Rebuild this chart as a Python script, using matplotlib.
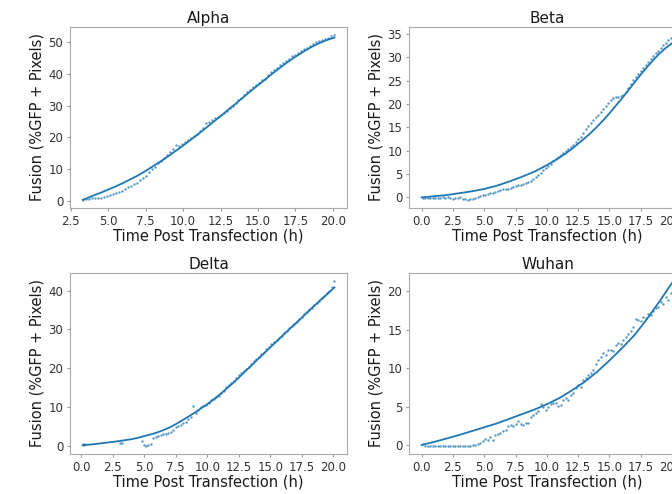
import matplotlib
matplotlib.use("Agg")
import matplotlib.pyplot as plt
from matplotlib.ticker import MultipleLocator, FormatStrFormatter

# ---- Alpha ----
alpha_t = [3.3, 3.5, 3.7, 3.9, 4.1, 4.3, 4.5, 4.7, 4.9, 5.1, 5.3, 5.5, 5.7, 5.9,
           6.1, 6.3, 6.5, 6.7, 6.9, 7.1, 7.3, 7.5, 7.7, 7.9, 8.1, 8.3, 8.5, 8.7,
           8.9, 9.1, 9.3, 9.5, 9.7, 9.9, 10.1, 10.3, 10.5, 10.7, 10.9, 11.1, 11.3,
           11.5, 11.7, 11.9, 12.1, 12.3, 12.5, 12.7, 12.9, 13.1, 13.3, 13.5, 13.7,
           13.9, 14.1, 14.3, 14.5, 14.7, 14.9, 15.1, 15.3, 15.5, 15.7, 15.9, 16.1,
           16.3, 16.5, 16.7, 16.9, 17.1, 17.3, 17.5, 17.7, 17.9, 18.1, 18.3, 18.5,
           18.7, 18.9, 19.1, 19.3, 19.5, 19.7, 19.9, 20.1]
alpha_y = [0.3, 0.5, 0.4, 0.8, 0.9, 1.0, 1.0, 1.3, 1.5, 1.7, 2.0, 2.4, 2.8, 3.1,
           3.6, 4.2, 4.6, 5.2, 5.7, 6.6, 7.1, 7.9, 9.0, 10.0, 10.8, 11.9, 12.6, 13.6,
           14.3, 15.4, 16.2, 17.5, 17.2, 17.8, 18.5, 19.3, 19.9, 20.6, 21.2, 22.0, 23.0,
           24.6, 25.0, 25.6, 26.0, 26.6, 27.2, 27.8, 28.5, 29.3, 30.0, 30.8, 31.8,
           32.6, 33.5, 34.4, 35.1, 35.9, 36.7, 37.3, 38.2, 38.6, 39.6, 40.6, 41.2,
           42.0, 42.9, 43.6, 44.1, 44.9, 45.6, 45.9, 46.6, 47.2, 47.8, 48.2, 48.9,
           49.4, 50.0, 50.4, 50.9, 51.2, 51.5, 51.9, 52.3]
alpha_fit_t = [3.3, 3.5, 4.0, 4.5, 5.0, 5.5, 6.0, 6.5, 7.0, 7.5, 8.0, 8.5, 9.0, 9.5,
               10.0, 10.5, 11.0, 11.5, 12.0, 12.5, 13.0, 13.5, 14.0, 14.5, 15.0, 15.5,
               16.0, 16.5, 17.0, 17.5, 18.0, 18.5, 19.0, 19.5, 20.0, 20.1]
alpha_fit_y = [0.3, 0.6, 1.6, 2.5, 3.5, 4.5, 5.6, 6.8, 8.0, 9.4, 10.9, 12.4, 14.0, 15.7,
               17.4, 19.2, 21.0, 22.9, 24.8, 26.7, 28.7, 30.6, 32.6, 34.6, 36.5, 38.4,
               40.3, 42.1, 43.9, 45.5, 47.0, 48.4, 49.6, 50.6, 51.4, 51.5]

# ---- Beta ----
beta_t = [0.1, 0.3, 0.5, 0.7, 0.9, 1.1, 1.3, 1.5, 1.7, 1.9, 2.1, 2.3, 2.5, 2.7, 2.9,
          3.1, 3.3, 3.5, 3.7, 3.9, 4.1, 4.3, 4.5, 4.7, 4.9, 5.1, 5.3, 5.5, 5.7, 5.9,
          6.1, 6.3, 6.5, 6.7, 6.9, 7.1, 7.3, 7.5, 7.7, 7.9, 8.1, 8.3, 8.5, 8.7, 8.9,
          9.1, 9.3, 9.5, 9.7, 9.9, 10.1, 10.3, 10.5, 10.7, 10.9, 11.1, 11.3, 11.5,
          11.7, 11.9, 12.1, 12.3, 12.5, 12.7, 12.9, 13.1, 13.3, 13.5, 13.7, 13.9,
          14.1, 14.3, 14.5, 14.7, 14.9, 15.1, 15.3, 15.5, 15.7, 15.9, 16.1, 16.3,
          16.5, 16.7, 16.9, 17.1, 17.3, 17.5, 17.7, 17.9, 18.1, 18.3, 18.5, 18.7,
          18.9, 19.1, 19.3, 19.5, 19.7, 19.9, 20.1]
beta_y = [-0.2, -0.1, -0.2, -0.1, -0.2, -0.1, -0.1, -0.2, 0.0, -0.1, 0.0, -0.2, -0.3,
          -0.1, -0.1, 0.0, -0.3, -0.4, -0.5, -0.4, -0.3, -0.2, 0.1, 0.3, 0.5, 0.6,
          0.8, 0.9, 1.0, 1.2, 1.4, 1.6, 1.7, 1.8, 1.9, 2.1, 2.2, 2.4, 2.6, 2.7, 2.9,
          3.0, 3.4, 3.6, 3.9, 4.4, 4.9, 5.3, 5.8, 6.3, 6.8, 7.2, 7.7, 8.3, 8.7, 9.1,
          9.5, 9.9, 10.3, 10.8, 11.3, 11.8, 12.4, 13.0, 13.8, 14.6, 15.2, 15.9, 16.6,
          17.1, 17.6, 18.2, 18.9, 19.5, 20.2, 20.8, 21.3, 21.5, 21.4, 21.6, 21.9,
          22.6, 23.4, 24.3, 25.1, 25.8, 26.5, 27.1, 27.7, 28.3, 28.9, 29.6, 30.2,
          30.8, 31.4, 31.9, 32.5, 33.0, 33.6, 34.2, 34.7]
beta_fit_t = [0.0, 0.5, 1.0, 1.5, 2.0, 2.5, 3.0, 3.5, 4.0, 4.5, 5.0, 5.5, 6.0, 6.5,
              7.0, 7.5, 8.0, 8.5, 9.0, 9.5, 10.0, 10.5, 11.0, 11.5, 12.0, 12.5, 13.0,
              13.5, 14.0, 14.5, 15.0, 15.5, 16.0, 16.5, 17.0, 17.5, 18.0, 18.5, 19.0,
              19.5, 20.0, 20.1]
beta_fit_y = [0.0, 0.12, 0.25, 0.37, 0.5, 0.7, 0.9, 1.1, 1.3, 1.55, 1.8, 2.15, 2.5, 2.95,
              3.4, 3.9, 4.4, 4.95, 5.5, 6.2, 6.9, 7.7, 8.5, 9.4, 10.4, 11.5, 12.6,
              13.8, 15.1, 16.5, 18.0, 19.6, 21.2, 22.9, 24.6, 26.3, 27.9, 29.4, 30.8,
              32.0, 33.0, 33.2]

# ---- Delta ----
delta_t = [0.1, 0.2, 0.3, 3.1, 3.2, 4.8, 5.0, 5.1, 5.3, 5.5, 5.7, 5.9, 6.1, 6.3, 6.5,
           6.7, 6.9, 7.1, 7.3, 7.5, 7.7, 7.9, 8.1, 8.3, 8.5, 8.7, 8.9, 9.1, 9.3, 9.5,
           9.7, 9.9, 10.1, 10.3, 10.5, 10.7, 10.9, 11.1, 11.3, 11.5, 11.7, 11.9, 12.1,
           12.3, 12.5, 12.7, 12.9, 13.1, 13.3, 13.5, 13.7, 13.9, 14.1, 14.3, 14.5,
           14.7, 14.9, 15.1, 15.3, 15.5, 15.7, 15.9, 16.1, 16.3, 16.5, 16.7, 16.9,
           17.1, 17.3, 17.5, 17.7, 17.9, 18.1, 18.3, 18.5, 18.7, 18.9, 19.1, 19.3,
           19.5, 19.7, 19.9, 20.1]
delta_y = [0.6, 0.2, 0.6, 0.8, 0.7, 1.3, 0.2, 0.1, 0.2, 0.5, 2.2, 2.3, 2.6, 2.8, 3.0,
           3.2, 3.4, 3.6, 4.2, 4.8, 5.1, 5.4, 5.9, 6.3, 6.9, 7.4, 10.4, 8.6, 9.4, 10.1,
           10.4, 10.7, 11.2, 11.9, 12.1, 12.6, 13.0, 13.6, 14.2, 15.1, 15.6, 16.2, 16.8,
           17.5, 18.2, 18.8, 19.4, 19.8, 20.3, 21.0, 21.8, 22.5, 22.9, 23.6, 24.2,
           24.9, 25.5, 26.2, 26.9, 27.3, 27.8, 28.3, 29.0, 29.6, 30.3, 30.9, 31.4,
           32.0, 32.6, 33.3, 34.0, 34.6, 35.1, 35.6, 36.2, 36.9, 37.4, 38.0, 38.7,
           39.3, 39.9, 40.9, 42.4]
delta_fit_t = [0.1, 0.5, 1.0, 1.5, 2.0, 2.5, 3.0, 3.5, 4.0, 4.5, 5.0, 5.5, 6.0, 6.5,
               7.0, 7.5, 8.0, 8.5, 9.0, 9.5, 10.0, 10.5, 11.0, 11.5, 12.0, 12.5, 13.0,
               13.5, 14.0, 14.5, 15.0, 15.5, 16.0, 16.5, 17.0, 17.5, 18.0, 18.5, 19.0,
               19.5, 20.0, 20.1]
delta_fit_y = [0.2, 0.35, 0.5, 0.7, 0.9, 1.1, 1.3, 1.55, 1.8, 2.15, 2.6, 3.0, 3.5, 4.1,
               4.8, 5.65, 6.6, 7.6, 8.6, 9.7, 10.8, 12.0, 13.3, 14.7, 16.1, 17.6, 19.2,
               20.7, 22.3, 23.8, 25.4, 26.9, 28.5, 30.0, 31.5, 33.0, 34.6, 36.1, 37.6,
               39.0, 40.5, 40.8]

# ---- Wuhan ----
wuhan_t = list(beta_t)
wuhan_y = [0.1, -0.1, -0.1, -0.1, -0.1, -0.1, -0.1, -0.1, -0.1, -0.1, -0.1, -0.1,
           -0.1, -0.1, -0.1, -0.1, -0.1, -0.1, -0.1, -0.1, 0.0, 0.0, 0.1, 0.3, 0.5,
           0.8, 0.6, 1.0, 0.6, 1.3, 1.4, 1.6, 1.8, 1.9, 2.5, 2.6, 2.5, 2.7, 3.1, 2.7,
           2.6, 2.8, 2.9, 3.6, 3.9, 4.1, 4.4, 5.3, 4.9, 4.6, 5.0, 5.3, 5.5, 5.4, 5.1,
           5.2, 5.8, 6.1, 5.9, 6.5, 6.8, 7.4, 7.8, 7.6, 8.4, 8.7, 9.1, 9.3, 9.8, 10.5,
           11.1, 11.5, 11.9, 11.7, 12.3, 12.4, 12.2, 13.0, 13.3, 13.1, 13.7, 14.0,
           14.4, 14.8, 15.3, 16.4, 16.3, 16.1, 16.6, 16.5, 17.0, 16.9, 17.4, 17.8,
           18.0, 18.6, 18.3, 19.2, 18.9, 19.8, 20.3]
wuhan_fit_t = list(beta_fit_t)
wuhan_fit_y = [0.0, 0.2, 0.4, 0.62, 0.85, 1.07, 1.3, 1.55, 1.8, 2.05, 2.3, 2.55, 2.8,
               3.1, 3.4, 3.7, 4.0, 4.3, 4.6, 4.95, 5.3, 5.7, 6.1, 6.6, 7.1, 7.65, 8.2,
               8.85, 9.5, 10.25, 11.0, 11.8, 12.6, 13.45, 14.3, 15.35, 16.4, 17.55,
               18.7, 19.9, 21.1, 21.3]

panels = [
    ("Alpha", alpha_t, alpha_y, alpha_fit_t, alpha_fit_y, 10),
    ("Beta", beta_t, beta_y, beta_fit_t, beta_fit_y, 5),
    ("Delta", delta_t, delta_y, delta_fit_t, delta_fit_y, 10),
    ("Wuhan", wuhan_t, wuhan_y, wuhan_fit_t, wuhan_fit_y, 5),
]

# axes boxes in figure fractions (right column runs off the figure edge)
boxes = [
    [0.1042, 0.579, 0.4122, 0.3664],
    [0.6086, 0.579, 0.4122, 0.3664],
    [0.1042, 0.081, 0.4122, 0.3664],
    [0.6086, 0.081, 0.4122, 0.3664],
]

fig = plt.figure(figsize=(6.72, 4.94), dpi=100)
for (name, t, y, ft, fy, ystep), box in zip(panels, boxes):
    ax = fig.add_axes(box)
    ax.scatter(t, y, s=3, color="#1f77b4", alpha=0.75, linewidths=0)
    ax.plot(ft, fy, color="#1f77b4", lw=1.3)
    ax.set_title(name, fontsize=11, color="#1a1a1a", pad=3)
    ax.set_xlabel("Time Post Transfection (h)", fontsize=10.5, color="#1a1a1a", labelpad=0.5)
    ax.set_ylabel("Fusion (%GFP + Pixels)", fontsize=10.5, color="#1a1a1a", labelpad=3)
    ax.xaxis.set_major_locator(MultipleLocator(2.5))
    ax.xaxis.set_major_formatter(FormatStrFormatter("%.1f"))
    ax.yaxis.set_major_locator(MultipleLocator(ystep))
    ax.tick_params(labelsize=8.5, colors="#333333", length=2, pad=2.8, color="#999999")
    for sp in ax.spines.values():
        sp.set_color("#aaaaaa")

fig.savefig("out.png", dpi=100)
